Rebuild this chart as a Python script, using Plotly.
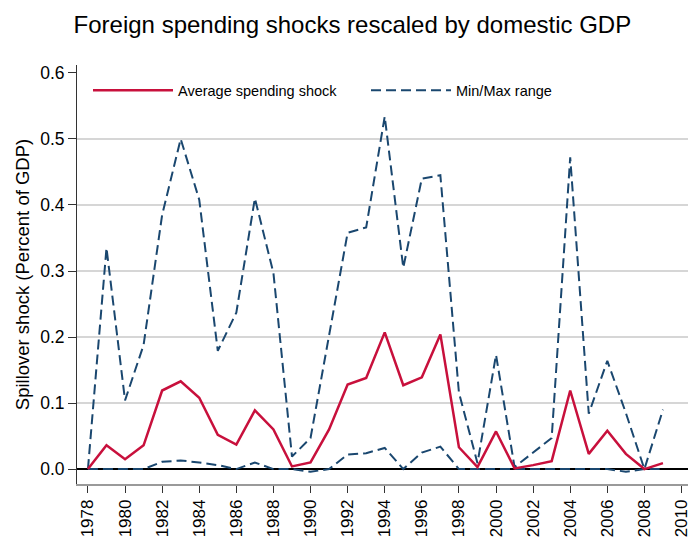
import plotly.graph_objects as go

# Years on the x axis
years = list(range(1978, 2010))

# Average spending shock (percent of GDP)
avg_shock = [0.000, 0.036, 0.015, 0.036, 0.119, 0.133, 0.108, 0.052, 0.037, 0.089,
             0.060, 0.004, 0.010, 0.060, 0.128, 0.138, 0.207, 0.127, 0.139, 0.204,
             0.033, 0.003, 0.057, 0.001, 0.006, 0.012, 0.119, 0.023, 0.058, 0.023,
             0.000, 0.009]

# Max of the range
max_shock = [0.000, 0.335, 0.104, 0.188, 0.385, 0.500, 0.408, 0.179, 0.237, 0.410,
             0.297, 0.019, 0.047, 0.203, 0.358, 0.366, 0.534, 0.305, 0.440, 0.445,
             0.116, 0.009, 0.173, 0.003, 0.025, 0.047, 0.472, 0.084, 0.164, 0.085,
             0.000, 0.090]

# Min of the range
min_shock = [0.000, 0.000, 0.000, 0.000, 0.011, 0.013, 0.010, 0.006, 0.000, 0.010,
             0.000, 0.000, -0.004, 0.000, 0.022, 0.024, 0.032, 0.000, 0.025, 0.034,
             0.000, 0.000, 0.000, 0.000, 0.000, 0.000, 0.000, 0.000, 0.000, -0.004,
             0.000, 0.000]

x_ticks = list(range(1978, 2011, 2))
y_ticks = [0.0, 0.1, 0.2, 0.3, 0.4, 0.5, 0.6]
y_labels = ["0.0", "0.1", "0.2", "0.3", "0.4", "0.5", "0.6"]
grid_levels = [0.1, 0.2, 0.3, 0.4, 0.5]

red = "#c8103c"
navy = "#1a476f"
font = "Liberation Sans, Arial, sans-serif"

fig = go.Figure()
fig.add_trace(go.Scatter(x=years, y=max_shock, mode="lines", name="Min/Max range",
                         legendgroup="mm", legendrank=2,
                         line=dict(color=navy, width=2, dash="10px,5px")))
fig.add_trace(go.Scatter(x=years, y=min_shock, mode="lines", name="Min/Max range",
                         legendgroup="mm", showlegend=False,
                         line=dict(color=navy, width=2, dash="10px,5px")))
fig.add_trace(go.Scatter(x=years, y=avg_shock, mode="lines", name="Average spending shock",
                         legendrank=1, line=dict(color=red, width=2.5)))

# horizontal grid lines (Stata style, none at the ends)
for g in grid_levels:
    fig.add_shape(type="line", xref="paper", x0=0, x1=1, yref="y", y0=g, y1=g,
                  line=dict(color="#c8c8c8", width=1.5), layer="below")

fig.update_layout(
    width=691, height=537,
    margin=dict(l=77, r=0, t=65, b=51),
    paper_bgcolor="white", plot_bgcolor="white",
    font=dict(family=font, color="black"),
    title=dict(text="Foreign spending shocks rescaled by domestic GDP",
               font=dict(size=24, color="black"),
               x=0.51, xanchor="center", y=1 - 25 / 537, yanchor="middle"),
    legend=dict(orientation="h", x=0.018, y=0.978, xanchor="left", yanchor="top",
                font=dict(size=14.5), itemwidth=80, entrywidth=183,
                bgcolor="rgba(0,0,0,0)", traceorder="normal"),
    xaxis=dict(range=[1977.41, 2010.35], tickvals=x_ticks, tickangle=-90,
               ticks="outside", ticklen=7, tickcolor="#333", tickfont=dict(size=17),
               ticklabeloverflow="allow",
               showline=True, linecolor="#9a9a9a", linewidth=1.5,
               showgrid=False, zeroline=False),
    yaxis=dict(range=[-0.0226, 0.612], tickvals=y_ticks, ticktext=y_labels,
               ticks="outside", ticklen=8, tickcolor="#333", tickfont=dict(size=17.5),
               showline=True, linecolor="#333", linewidth=1,
               showgrid=False, zeroline=True, zerolinecolor="black", zerolinewidth=2,
               title=dict(text="Spillover shock (Percent of GDP)", font=dict(size=18.5),
                          standoff=5)),
)

fig.write_html("out.html", config={"displayModeBar": False},
               post_script="document.body.style.margin='0px';")
